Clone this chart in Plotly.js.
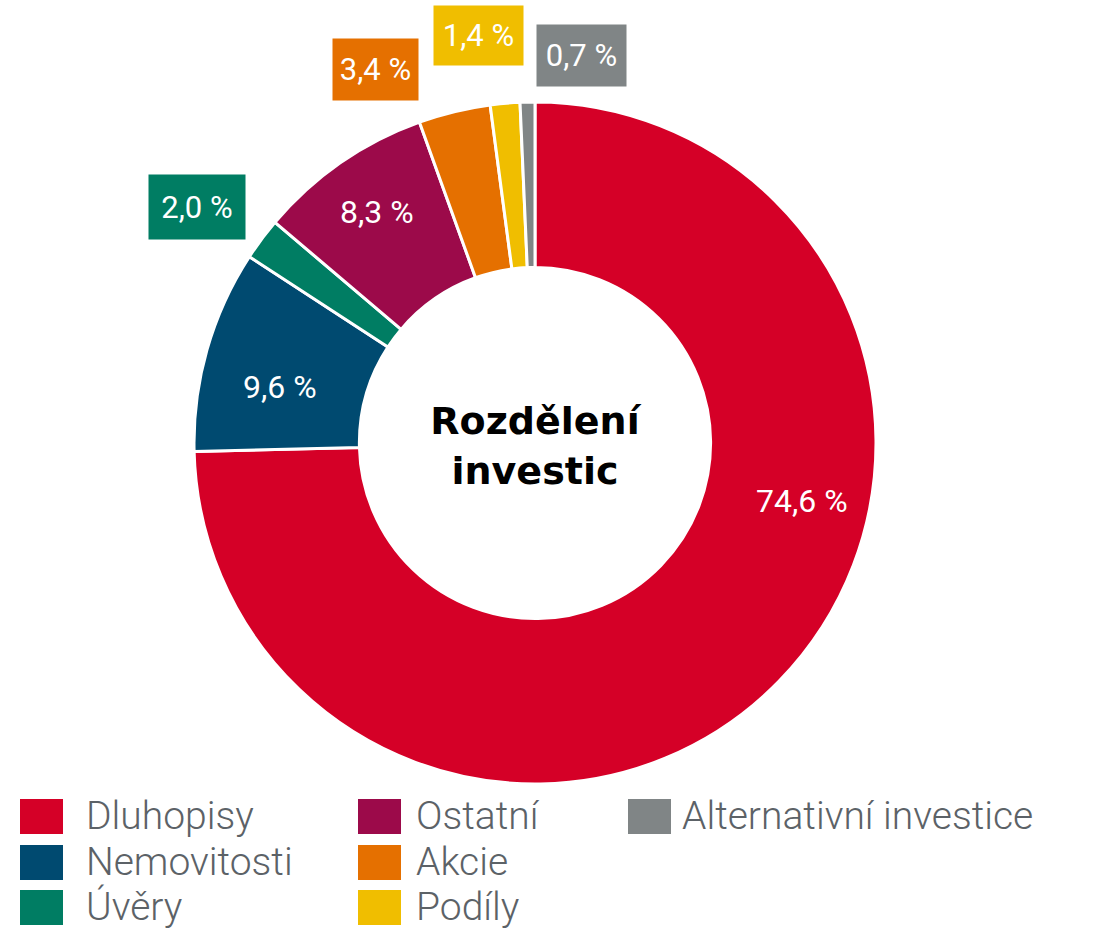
<!DOCTYPE html>
<html>
<head>
<meta charset="utf-8">
<script src="https://cdn.plot.ly/plotly-3.0.1.min.js"></script>
<style>html,body{margin:0;padding:0;background:#fff;}#chart{width:1094px;height:931px;}</style>
</head>
<body>
<div id="chart"></div>
<script>
const labels = ["Dluhopisy", "Nemovitosti", "Úvěry", "Ostatní", "Akcie", "Podíly", "Alternativní investice"];
const values = [74.6, 9.6, 2.0, 8.3, 3.4, 1.4, 0.7];
const colors = ["#D50027", "#004A70", "#007D63", "#9C0A4A", "#E57000", "#F0BE00", "#808586"];
const centerTitle = "Rozdělení<br>investic";

const W = 1094, H = 931;
const px = x => x / W;
const py = y => 1 - y / H;
const fmt = v => v.toFixed(1).replace('.', ',') + ' %';

// value label placement (layout only): [cx, cy, boxed, boxW, boxH]
const labelPos = [
  [802, 501, false],
  [280, 387, false],
  [197, 207, true, 96, 64],
  [377, 212, false],
  [375.5, 69.5, true, 85, 61],
  [478.5, 35.5, true, 89, 59],
  [581.5, 55.5, true, 89, 61]
];

const annotations = [];
labelPos.forEach((p, i) => {
  annotations.push({
    x: px(p[0]), y: py(p[1]), xref: 'paper', yref: 'paper', showarrow: false,
    xanchor: 'center', yanchor: 'middle',
    text: fmt(values[i]),
    font: {family: 'Roboto', size: p[2] ? 31 : 32, color: '#ffffff', weight: 400},
    bgcolor: p[2] ? colors[i] : 'rgba(0,0,0,0)',
    width: p[2] ? p[3] - 4 : null, height: p[2] ? p[4] - 4 : null, borderpad: 2
  });
});

// custom legend: column-major, 3 rows
const colX = [20, 358, 628];
const textX = [85, 415, 681];
const rowC = [816, 862, 907];
const shapes = [];
labels.forEach((lab, i) => {
  const c = Math.floor(i / 3), r = i % 3;
  const x0 = colX[c], yc = rowC[r];
  shapes.push({type: 'rect', xref: 'paper', yref: 'paper',
    x0: px(x0), x1: px(x0 + 43), y0: py(yc - 17), y1: py(yc + 18),
    fillcolor: colors[i], line: {width: 0}});
  annotations.push({x: px(textX[c]), y: py(yc), xref: 'paper', yref: 'paper',
    showarrow: false, xanchor: 'left', yanchor: 'middle', text: lab, borderpad: 0,
    font: {family: 'Roboto', size: 39, color: '#5C6267', weight: 300}});
});

const trace = {
  type: 'pie', labels: labels, values: values, sort: false, direction: 'clockwise', rotation: 0,
  hole: 0.515, marker: {colors: colors, line: {color: '#ffffff', width: 3}},
  textinfo: 'none',
  title: {text: centerTitle, position: 'middle center', font: {family: 'DejaVu Sans', size: 38, color: '#000000', weight: 'bold'}},
  domain: {x: [194 / W, 876 / W], y: [1 - 784 / H, 1 - 102 / H]},
  showlegend: false, hoverinfo: 'label+percent'
};

Plotly.newPlot('chart', [trace], {
  width: W, height: H, margin: {l: 0, r: 0, t: 0, b: 0},
  paper_bgcolor: '#ffffff', showlegend: false,
  shapes: shapes, annotations: annotations
}, {displayModeBar: false, staticPlot: true});
</script>
</body>
</html>
